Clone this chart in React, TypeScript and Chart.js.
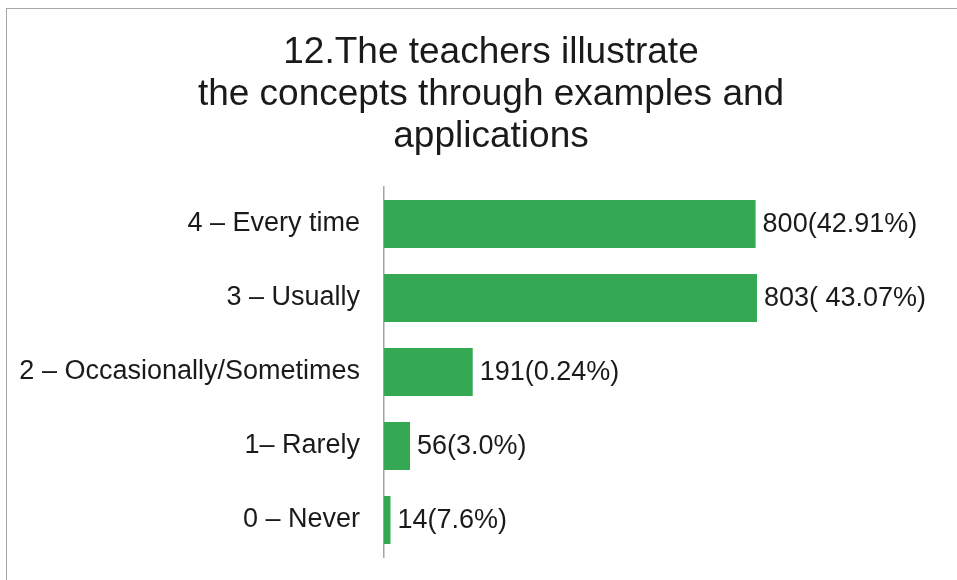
import React, { useEffect, useRef } from "react";
import { Chart, registerables } from "chart.js";

Chart.register(...registerables);

const TITLE_LINES = [
  "12.The teachers illustrate",
  "the concepts through examples and",
  "applications",
];
const CATEGORIES = [
  "4 – Every time",
  "3 – Usually",
  "2 – Occasionally/Sometimes",
  "1– Rarely",
  "0 – Never",
];
const COUNTS = [800, 803, 191, 56, 14];
const VALUE_LABELS = [
  "800(42.91%)",
  "803( 43.07%)",
  "191(0.24%)",
  "56(3.0%)",
  "14(7.6%)",
];
const X_MAX = 1000;

const FONT_FAMILY = "'Liberation Sans', Arial, Helvetica, sans-serif";
const TEXT_COLOR = "#1a1a1a";
const BAR_COLOR = "#34a853";

const titlePlugin = {
  id: "multiTitle",
  afterDraw(chart: any) {
    const ctx = chart.ctx;
    ctx.save();
    ctx.font = `37px ${FONT_FAMILY}`;
    ctx.fillStyle = TEXT_COLOR;
    ctx.textAlign = "center";
    ctx.textBaseline = "alphabetic";
    TITLE_LINES.forEach((line, i) => {
      ctx.fillText(line, 491, 63 + i * 42);
    });
    ctx.restore();
  },
};

const valueLabelPlugin = {
  id: "valueLabels",
  afterDatasetsDraw(chart: any) {
    const ctx = chart.ctx;
    const meta = chart.getDatasetMeta(0);
    ctx.save();
    ctx.font = `27px ${FONT_FAMILY}`;
    ctx.fillStyle = TEXT_COLOR;
    ctx.textAlign = "left";
    ctx.textBaseline = "middle";
    meta.data.forEach((bar: any, i: number) => {
      ctx.fillText(VALUE_LABELS[i], bar.x + 7, bar.y + 1);
    });
    ctx.restore();
  },
};

export default function App() {
  const canvasRef = useRef<HTMLCanvasElement | null>(null);

  useEffect(() => {
    if (!canvasRef.current) return;
    const chart = new Chart(canvasRef.current, {
      type: "bar",
      data: {
        labels: CATEGORIES,
        datasets: [
          {
            data: COUNTS,
            backgroundColor: BAR_COLOR,
            borderWidth: 0,
            barPercentage: 0.65,
            categoryPercentage: 1,
          },
        ],
      },
      options: {
        indexAxis: "y",
        animation: false,
        responsive: false,
        maintainAspectRatio: false,
        layout: { padding: { top: 187, bottom: 23, left: 0, right: 108.5 } },
        plugins: {
          legend: { display: false },
          title: { display: false },
          tooltip: { enabled: false },
        },
        scales: {
          x: { display: false, min: 0, max: X_MAX },
          y: {
            afterFit: (scale: any) => {
              scale.width = 384;
              scale.paddingTop = 0;
              scale.paddingBottom = 0;
            },
            grid: { display: false, drawTicks: false },
            border: { display: true, color: "#a6a6a6", width: 1.5 },
            ticks: {
              padding: 24,
              color: TEXT_COLOR,
              font: { size: 27, family: FONT_FAMILY },
            },
          },
        },
      },
      plugins: [titlePlugin, valueLabelPlugin],
    });
    return () => chart.destroy();
  }, []);

  return (
    <div
      style={{
        position: "fixed",
        left: 0,
        top: 0,
        width: 957,
        height: 580,
        overflow: "hidden",
        background: "#fff",
      }}
    >
      <div
        style={{
          position: "absolute",
          left: 6,
          top: 8,
          width: 1000,
          height: 1000,
          border: "1.5px solid #a6a6a6",
          boxSizing: "border-box",
        }}
      />
      <canvas
        ref={canvasRef}
        width={957}
        height={580}
        style={{ position: "absolute", left: 0, top: 0, width: 957, height: 580 }}
      />
    </div>
  );
}
